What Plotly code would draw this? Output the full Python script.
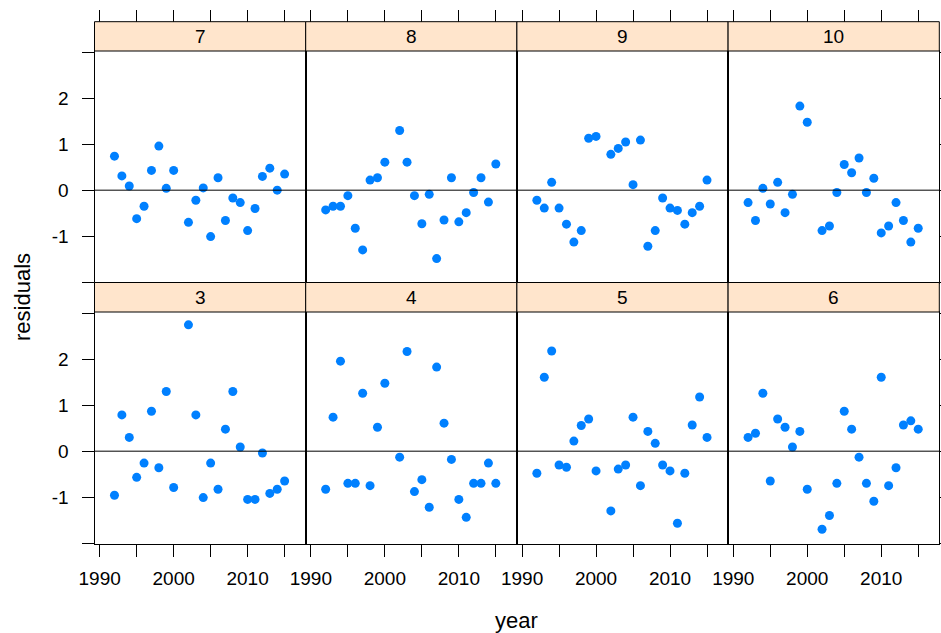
import plotly.graph_objects as go

# ---------------- data ----------------
years = [1992, 1993, 1994, 1995, 1996, 1997, 1998, 1999, 2000,
         2002, 2003, 2004, 2005, 2006, 2007, 2008, 2009, 2010,
         2011, 2012, 2013, 2014, 2015]

res7 = [0.74, 0.31, 0.09, -0.62, -0.35, 0.43, 0.96, 0.04, 0.43,
        -0.70, -0.22, 0.05, -1.01, 0.27, -0.66, -0.17, -0.27, -0.88,
        -0.40, 0.30, 0.48, 0.00, 0.35]
res8 = [-0.43, -0.35, -0.35, -0.12, -0.83, -1.30, 0.22, 0.27, 0.61,
        1.30, 0.61, -0.12, -0.73, -0.09, -1.49, -0.65, 0.27, -0.69,
        -0.49, -0.05, 0.27, -0.26, 0.57]
res9 = [-0.22, -0.39, 0.17, -0.39, -0.74, -1.13, -0.88, 1.13, 1.17,
        0.78, 0.91, 1.05, 0.12, 1.09, -1.22, -0.88, -0.17, -0.39,
        -0.44, -0.74, -0.49, -0.35, 0.22]
res10 = [-0.27, -0.66, 0.04, -0.30, 0.17, -0.49, -0.09, 1.83, 1.48,
         -0.88, -0.78, -0.05, 0.56, 0.38, 0.70, -0.05, 0.26, -0.93,
         -0.78, -0.27, -0.66, -1.13, -0.83]
res3 = [-0.96, 0.79, 0.30, -0.57, -0.26, 0.87, -0.36, 1.30, -0.79,
        2.75, 0.79, -1.01, -0.26, -0.83, 0.48, 1.30, 0.09, -1.05,
        -1.05, -0.04, -0.92, -0.83, -0.65]
res4 = [-0.83, 0.74, 1.96, -0.70, -0.70, 1.26, -0.75, 0.52, 1.48,
        -0.13, 2.17, -0.88, -0.62, -1.22, 1.83, 0.61, -0.18, -1.05,
        -1.44, -0.70, -0.70, -0.26, -0.70]
res5 = [-0.48, 1.61, 2.18, -0.30, -0.35, 0.22, 0.56, 0.70, -0.43,
        -1.30, -0.39, -0.30, 0.74, -0.75, 0.43, 0.17, -0.30, -0.43,
        -1.57, -0.48, 0.57, 1.18, 0.30]
res6 = [0.30, 0.39, 1.26, -0.65, 0.70, 0.52, 0.09, 0.43, -0.83,
        -1.70, -1.40, -0.70, 0.87, 0.48, -0.13, -0.70, -1.09, 1.61,
        -0.75, -0.36, 0.57, 0.66, 0.48]

panel_labels = ["7", "8", "9", "10", "3", "4", "5", "6"]
panel_values = [res7, res8, res9, res10, res3, res4, res5, res6]

x_tickvals = [1990, 1995, 2000, 2005, 2010, 2015]
x_ticktext = ["1990", "", "2000", "", "2010", ""]
y_tickvals = [-2, -1, 0, 1, 2, 3]
y_ticktext = ["", "-1", "0", "1", "2", ""]

# ---------------- layout geometry (pixels) ----------------
W, H = 941, 633
col_left = [94.5, 305.7, 516.9, 728.1]
col_w = 211.2
rows = [  # strip top, panel top, panel bottom
    (21.7, 51.0, 282.5),
    (282.5, 312.0, 543.5),
]
XR = [1989.3, 2017.85]
YR = [-2.01, 3.03]

FONT = "Liberation Sans, Arial, sans-serif"
STRIP_FILL = "#FFE5CC"
PT_COL = "#0080FF"
TICK_SIZE = 19


def sfx(k):
    return "" if k == 1 else str(k)


fig = go.Figure()
layout = {}
shapes = []
annotations = []

for i, (lab, vals) in enumerate(zip(panel_labels, panel_values)):
    r, c = divmod(i, 4)
    k = i + 1
    s = sfx(k)
    st, pt, pb = rows[r]
    l = col_left[c]
    xdom = [l / W, (l + col_w) / W]
    ydom = [1 - pb / H, 1 - pt / H]
    ph = pb - pt

    fig.add_trace(go.Scatter(
        x=years, y=vals, mode="markers",
        marker=dict(color=PT_COL, size=9, line=dict(width=0)),
        xaxis=f"x{s}", yaxis=f"y{s}", showlegend=False, hoverinfo="x+y"))

    xa = dict(domain=xdom, range=XR, anchor=f"y{s}",
              tickmode="array", tickvals=x_tickvals, ticktext=x_ticktext,
              showline=True, mirror=True, linecolor="black", linewidth=1,
              showgrid=False, zeroline=False, automargin=False,
              ticks="outside" if r == 1 else "", ticklen=12, tickwidth=1,
              tickcolor="black", showticklabels=(r == 1),
              tickfont=dict(family=FONT, size=TICK_SIZE, color="black"),
              ticklabelstandoff=6, fixedrange=True)
    ya = dict(domain=ydom, range=YR, anchor=f"x{s}",
              tickmode="array", tickvals=y_tickvals, ticktext=y_ticktext,
              showline=True, mirror=True, linecolor="black", linewidth=1,
              showgrid=False, zeroline=False, automargin=False,
              ticks="outside" if c in (0, 3) else "", ticklen=12, tickwidth=1,
              tickcolor="black", showticklabels=(c == 0),
              side="right" if c == 3 else "left",
              tickfont=dict(family=FONT, size=TICK_SIZE, color="black"),
              ticklabelstandoff=9, fixedrange=True)
    layout[f"xaxis{s}"] = xa
    layout[f"yaxis{s}"] = ya

    # strip above panel
    sh = (pt - st) / ph
    shapes.append(dict(type="rect", xref=f"x{s} domain", yref=f"y{s} domain",
                       x0=0, x1=1, y0=1, y1=1 + sh,
                       fillcolor=STRIP_FILL, line=dict(color="black", width=1),
                       layer="above"))
    annotations.append(dict(text=lab, xref=f"x{s} domain", yref=f"y{s} domain",
                            x=0.5, y=1 + sh / 2, showarrow=False,
                            xanchor="center", yanchor="middle",
                            font=dict(family=FONT, size=TICK_SIZE, color="black")))
    # reference line at zero
    shapes.append(dict(type="line", xref=f"x{s} domain", yref=f"y{s}",
                       x0=0, x1=1, y0=0, y1=0,
                       line=dict(color="black", width=1), layer="above"))

    # top ticks above the strips of the top row
    if r == 0:
        kk = 9 + c
        layout[f"xaxis{kk}"] = dict(
            overlaying=f"x{s}", anchor="free", position=1 - st / H,
            side="top", range=XR, tickmode="array", tickvals=x_tickvals,
            ticks="outside", ticklen=12, tickwidth=1, tickcolor="black",
            showticklabels=False, showline=False, showgrid=False,
            zeroline=False, automargin=False, fixedrange=True)
        fig.add_trace(go.Scatter(x=[], y=[], xaxis=f"x{kk}", yaxis=f"y{s}",
                                 mode="markers", showlegend=False,
                                 hoverinfo="skip"))

annotations.append(dict(text="year", xref="paper", yref="paper",
                        x=(col_left[0] + col_left[3] + col_w) / 2 / W,
                        y=1 - 620 / H, showarrow=False,
                        xanchor="center", yanchor="middle",
                        font=dict(family=FONT, size=22, color="black")))
annotations.append(dict(text="residuals", xref="paper", yref="paper",
                        x=22 / W, y=1 - 297 / H, showarrow=False,
                        textangle=-90, xanchor="center", yanchor="middle",
                        font=dict(family=FONT, size=22, color="black")))

fig.update_layout(width=W, height=H, autosize=False,
                  margin=dict(l=0, r=0, t=0, b=0, pad=0),
                  paper_bgcolor="white", plot_bgcolor="white",
                  shapes=shapes, annotations=annotations, **layout)

fig.write_html("out.html", config={"displayModeBar": False},
               post_script="document.body.style.margin='0';")
